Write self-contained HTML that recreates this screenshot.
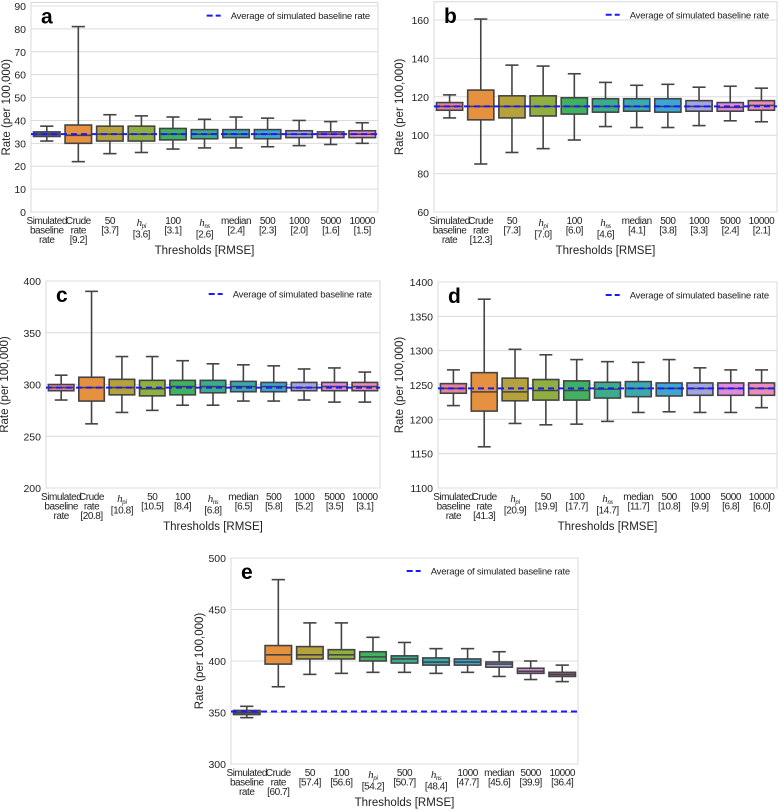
<!DOCTYPE html>
<html><head><meta charset="utf-8">
<style>
html,body{margin:0;padding:0;background:#fff;}
svg{display:block;font-family:"Liberation Sans",sans-serif;}
</style></head>
<body>
<svg id="fig" width="780" height="811" viewBox="0 0 780 811" xmlns="http://www.w3.org/2000/svg"></svg>
<script>
// ---- data ----
const catsA = ["Simulated\nbaseline\nrate","Crude\nrate\n[9.2]","50\n[3.7]","h_pi\n[3.6]","100\n[3.1]","h_ns\n[2.6]","median\n[2.4]","500\n[2.3]","1000\n[2.0]","5000\n[1.6]","10000\n[1.5]"];
const statsA = [[31,33,34,35,37.5],[22,30,33.5,38,81],[25.5,31,34,37.5,42.5],[26,31,34,37.5,42],[27.5,31.5,34,36.5,41.5],[28,32,34,36,40.5],[28,32.5,34,36,41.5],[28.5,32,34,36,41],[29,32.5,34,35.5,40],[29.5,32.5,34,35,39.5],[30,32.5,34,35.5,39]];
const ticksA = [0,10,20,30,40,50,60,70,80,90];
const avgA = 34;

const catsB = ["Simulated\nbaseline\nrate","Crude\nrate\n[12.3]","50\n[7.3]","h_pi\n[7.0]","100\n[6.0]","h_ns\n[4.6]","median\n[4.1]","500\n[3.8]","1000\n[3.3]","5000\n[2.4]","10000\n[2.1]"];
const statsB = [[109,113,115,117,121],[85,108,115,123.5,160.5],[91,109,115,120.5,136.5],[93,110,115,120.5,136],[97.5,111,115,119.5,132],[104.5,112,115,119,127.5],[104,112.5,115,119,126],[104,112,115,119,126.5],[105,112.5,115,118,125],[107.5,112.5,114.5,117,125.5],[107,113,115.5,118,124.5]];
const ticksB = [60,80,100,120,140,160];
const avgB = 115;

const catsC = ["Simulated\nbaseline\nrate","Crude\nrate\n[20.8]","h_pi\n[10.8]","50\n[10.5]","100\n[8.4]","h_ns\n[6.8]","median\n[6.5]","500\n[5.8]","1000\n[5.2]","5000\n[3.5]","10000\n[3.1]"];
const statsC = [[285,294,297,300,309],[262,284,297,307,390],[273,290,297,305,327],[275,289,296,304,327],[280,290,298,304,323],[280,292,298,304,320],[284,293,298,303,319],[284,293,298,302,318],[285,294,297,302,315],[283,294,298,302,316],[283,294,298,302,312]];
const ticksC = [200,250,300,350,400];
const avgC = 297;

const catsD = ["Simulated\nbaseline\nrate","Crude\nrate\n[41.3]","h_pi\n[20.9]","50\n[19.9]","100\n[17.7]","h_ns\n[14.7]","median\n[11.7]","500\n[10.8]","1000\n[9.9]","5000\n[6.8]","10000\n[6.0]"];
const statsD = [[1220,1238,1245,1252,1272],[1160,1212,1240,1268,1375],[1194,1227,1240,1260,1302],[1192,1228,1242,1258,1294],[1193,1228,1242,1256,1287],[1197,1231,1244,1254,1284],[1210,1233,1245,1255,1283],[1211,1234,1245,1253,1287],[1210,1235,1245,1253,1275],[1210,1235,1245,1253,1272],[1217,1235,1245,1253,1272]];
const ticksD = [1100,1150,1200,1250,1300,1350,1400];
const avgD = 1245;

const catsE = ["Simulated\nbaseline\nrate","Crude\nrate\n[60.7]","50\n[57.4]","100\n[56.6]","h_pi\n[54.2]","500\n[50.7]","h_ns\n[48.4]","1000\n[47.7]","median\n[45.6]","5000\n[39.9]","10000\n[36.4]"];
const statsE = [[345,348,350,352,356],[375,397,406,415,479],[387,402,406,414,437],[388,402,406,411,437],[389,400,404,409,423],[389,398,402,405,418],[388,396,399,403,412],[389,396,399,402,412],[385,394,397,399,409],[382,388,390,393,400],[380,385,387,389,396]];
const ticksE = [300,350,400,450,500];
const avgE = 351;

// ---- drawing ----
const NS = "http://www.w3.org/2000/svg";
const svg = document.getElementById("fig");
function mk(tag, attrs, parent){
  const e = document.createElementNS(NS, tag);
  for (const k in attrs) e.setAttribute(k, attrs[k]);
  (parent||svg).appendChild(e);
  return e;
}
const palette = ["#e8849a","#e5913f","#b5a23c","#8fb03e","#3fb15f","#3aae8c","#3aaab0","#3da6d4","#a3a5e0","#e08ae0","#ec8cb8"];

function panel(cfg){
  const g = mk("g", {});
  
  
  const y = v => cfg.y0 + (v - cfg.vmin) / (cfg.vmax - cfg.vmin) * (cfg.y1 - cfg.y0);
  const n = cfg.cats.length;
  const step = (cfg.xr - cfg.xl) / n;
  const xc = i => cfg.xl + step * (i + 0.5);
  const top = y(cfg.vtop);
  const fr = mk("rect", {x:cfg.xl, y:top, width:cfg.xr-cfg.xl, height:cfg.y0-top, fill:"#fff", stroke:"#d8d8d8", "stroke-width":1}, g);
  
  
  cfg.ticks.forEach(t => {
    const gl = mk("line", {x1:cfg.xl, x2:cfg.xr, y1:y(t), y2:y(t), stroke:"#dcdcdc", "stroke-width":1}, g);
    
    
    const tl = mk("text", {x:cfg.xl-5, y:y(t)+4, "text-anchor":"end", "font-size":10.5, fill:"#222"}, g);
    tl.textContent = t;
    
    
  });
  const bw = step * 0.84;
  cfg.stats.forEach((s, i) => {
    const bg = mk("g", {}, g);
    
    
    const c = xc(i);
    mk("line", {x1:c, x2:c, y1:y(s[0]), y2:y(s[1]), stroke:"#444", "stroke-width":1.6}, bg);
    mk("line", {x1:c, x2:c, y1:y(s[3]), y2:y(s[4]), stroke:"#444", "stroke-width":1.6}, bg);
    mk("line", {x1:c-bw/4, x2:c+bw/4, y1:y(s[0]), y2:y(s[0]), stroke:"#444", "stroke-width":1.6}, bg);
    mk("line", {x1:c-bw/4, x2:c+bw/4, y1:y(s[4]), y2:y(s[4]), stroke:"#444", "stroke-width":1.6}, bg);
    const col = (cfg.colors && cfg.colors[i]) || palette[i];
    mk("rect", {x:c-bw/2, y:y(s[3]), width:bw, height:y(s[1])-y(s[3]), fill:col, stroke:"#444", "stroke-width":1.6}, bg);
    mk("line", {x1:c-bw/2, x2:c+bw/2, y1:y(s[2]), y2:y(s[2]), stroke:"#444", "stroke-width":1.6}, bg);
    const lines = cfg.cats[i].split("\n");
    const tg = mk("text", {x:c, y:cfg.y0+12, "text-anchor":"middle", "font-size":10, "letter-spacing":-0.45, fill:"#222"}, g);
    
    
    lines.forEach((ln, k) => {
      const ts = mk("tspan", {x:c, dy: k===0 ? 0 : 9.6}, tg);
      if (ln.startsWith("h_")) {
        ts.setAttribute("dy", 2);
        const h = mk("tspan", {"font-family":"Liberation Serif, serif", "font-style":"italic", "font-size":11}, ts);
        h.textContent = "h";
        const sb = mk("tspan", {"font-family":"Liberation Serif, serif", "font-style":"italic", "font-size":7, dy:2}, ts);
        sb.textContent = ln.slice(2);
      } else {
        ts.textContent = ln;
      }
    });
  });
  const al = mk("line", {x1:cfg.xl, x2:cfg.xr, y1:y(cfg.avg), y2:y(cfg.avg), stroke:"#1a1aff", "stroke-width":2, "stroke-dasharray":"6,4"}, g);
  
  
  const lg = mk("g", {}, g);
  
  
  const ly = top + 13;
  const lt = mk("text", {x:cfg.xr-8, y:ly+3.5, "text-anchor":"end", "font-size":9.5, "letter-spacing":-0.2, fill:"#222"}, lg);
  lt.textContent = "Average of simulated baseline rate";
  let tw = 150;
  try { tw = lt.getComputedTextLength(); } catch(e) {}
  const lx = cfg.xr - 8 - tw - 10;
  mk("line", {x1:lx-14, x2:lx, y1:ly, y2:ly, stroke:"#1a1aff", "stroke-width":2, "stroke-dasharray":"6,3"}, lg);
  const pl = mk("text", {x:cfg.xl+10, y:top+21, "font-size":21, "font-weight":"bold", fill:"#000"}, g);
  pl.textContent = cfg.id;
  
  
  const ym = (top + cfg.y0) / 2;
  const yt = mk("text", {x:cfg.ytx, y:ym, "text-anchor":"middle", "font-size":11.5, fill:"#222", transform:`rotate(-90 ${cfg.ytx} ${ym})`}, g);
  yt.textContent = "Rate (per 100,000)";
  
  
  const xt = mk("text", {x:(cfg.xl+cfg.xr)/2, y:cfg.y0+42, "text-anchor":"middle", "font-size":11.5, fill:"#222"}, g);
  xt.textContent = "Thresholds [RMSE]";
  
  
}

const colA = palette.slice(); colA[0] = "#5f5c9c";
const colE = palette.slice(); colE[0] = "#5f5c9c"; colE[10] = "#b46e9c"; colE[9] = "#d88ad8";

panel({id:"a", cats:catsA, stats:statsA, ticks:ticksA, avg:avgA, vmin:0, vmax:90, vtop:91.5, y0:212, y1:6, xl:31, xr:378, ytx:10, colors:colA});
panel({id:"b", cats:catsB, stats:statsB, ticks:ticksB, avg:avgB, vmin:60, vmax:160, vtop:169.5, y0:212, y1:20, xl:434, xr:777, ytx:403});
panel({id:"c", cats:catsC, stats:statsC, ticks:ticksC, avg:avgC, vmin:200, vmax:400, vtop:400, y0:488, y1:281, xl:46, xr:380, ytx:8});
panel({id:"d", cats:catsD, stats:statsD, ticks:ticksD, avg:avgD, vmin:1100, vmax:1400, vtop:1400, y0:488, y1:282, xl:438, xr:777, ytx:403});
panel({id:"e", cats:catsE, stats:statsE, ticks:ticksE, avg:avgE, vmin:300, vmax:500, vtop:500, y0:764, y1:558, xl:231, xr:578, ytx:203, colors:colE});
</script>
</body></html>
